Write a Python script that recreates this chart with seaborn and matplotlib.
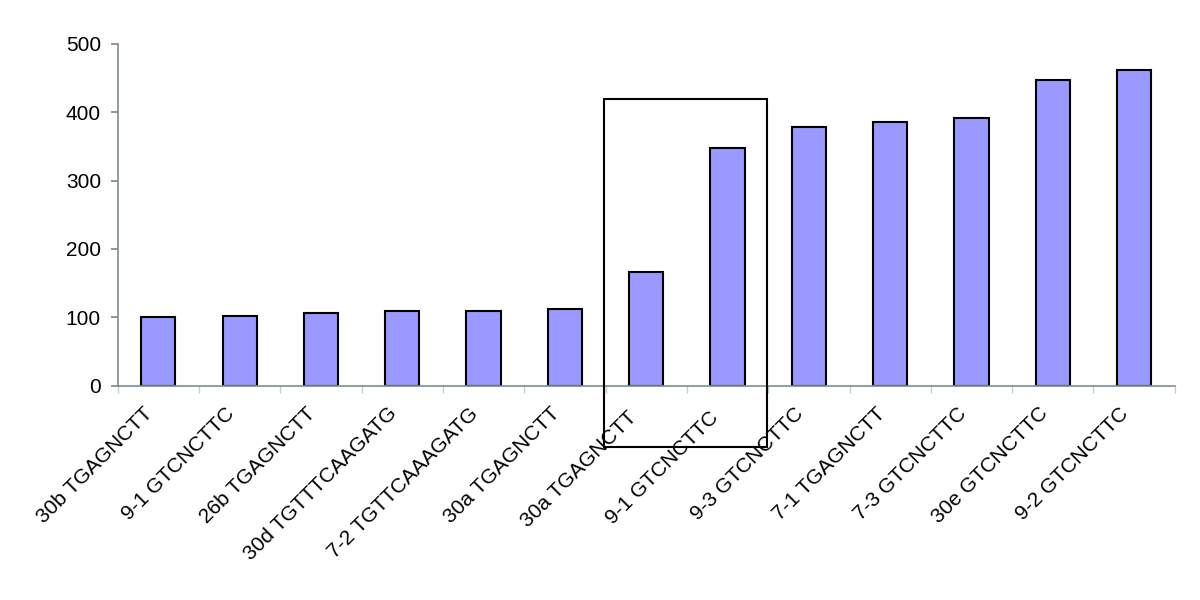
import matplotlib
matplotlib.use("Agg")
import matplotlib.pyplot as plt
import matplotlib.transforms as mtransforms
import seaborn as sns
import pandas as pd
import numpy as np
from matplotlib.patches import Rectangle

categories = ["30b TGAGNCTT", "9-1 GTCNCTTC", "26b TGAGNCTT", "30d TGTTTCAAGATG",
              "7-2 TGTTCAAAGATG", "30a TGAGNCTT", "30a TGAGNCTT ", "9-1 GTCNCTTC ",
              "9-3 GTCNCTTC", "7-1 TGAGNCTT", "7-3 GTCNCTTC", "30e GTCNCTTC", "9-2 GTCNCTTC"]
values = [100, 102, 107, 110, 109, 112, 167, 348, 379, 386, 391, 447, 462]
yticks = [0, 100, 200, 300, 400, 500]
box_x = [5.48, 7.48]
box_y = [-89, 420]

sns.set_theme(style="white")
plt.rcParams['font.family'] = ['Liberation Sans', 'DejaVu Sans']
plt.rcParams['text.color'] = 'black'
plt.rcParams['xtick.color'] = 'black'
plt.rcParams['ytick.color'] = 'black'

df = pd.DataFrame({"cat": categories, "val": values})

fig = plt.figure(figsize=(12, 6), dpi=100)
ax = fig.add_axes([0.098, 0.357, 0.881, 0.570])
sns.barplot(data=df, x="cat", y="val", ax=ax, color="#9999FF", saturation=1,
            width=0.42, edgecolor="black", linewidth=1.5)

ax.set_xlim(-0.5, len(categories) - 0.5)
ax.set_ylim(0, 500)
ax.set_yticks(yticks)
ax.set_xlabel("")
ax.set_ylabel("")

axis_color = "#7f8c8c"
for s in ["top", "right"]:
    ax.spines[s].set_visible(False)
for s in ["left", "bottom"]:
    ax.spines[s].set_color(axis_color)
    ax.spines[s].set_linewidth(1.2)

ax.tick_params(axis="y", which="major", left=True, length=5, color=axis_color,
               labelcolor="black", labelsize=15, pad=7)
ax.set_xticks(np.arange(len(categories)))
ax.set_xticklabels(categories, rotation=45, ha="right", rotation_mode="anchor", fontsize=15)
ax.tick_params(axis="x", which="major", bottom=False, pad=7, labelcolor="black")
ax.set_xticks(np.arange(len(categories) + 1) - 0.5, minor=True)
ax.tick_params(axis="x", which="minor", bottom=True, length=5, color="#cccccc")

offset = mtransforms.ScaledTranslation(-15 / 100, 0, fig.dpi_scale_trans)
for lbl in ax.get_xticklabels():
    lbl.set_transform(lbl.get_transform() + offset)

rect = Rectangle((box_x[0], box_y[0]), box_x[1] - box_x[0], box_y[1] - box_y[0],
                 fill=False, edgecolor="black", linewidth=1.5, clip_on=False, zorder=5)
ax.add_patch(rect)

fig.savefig("out.png", dpi=100)
